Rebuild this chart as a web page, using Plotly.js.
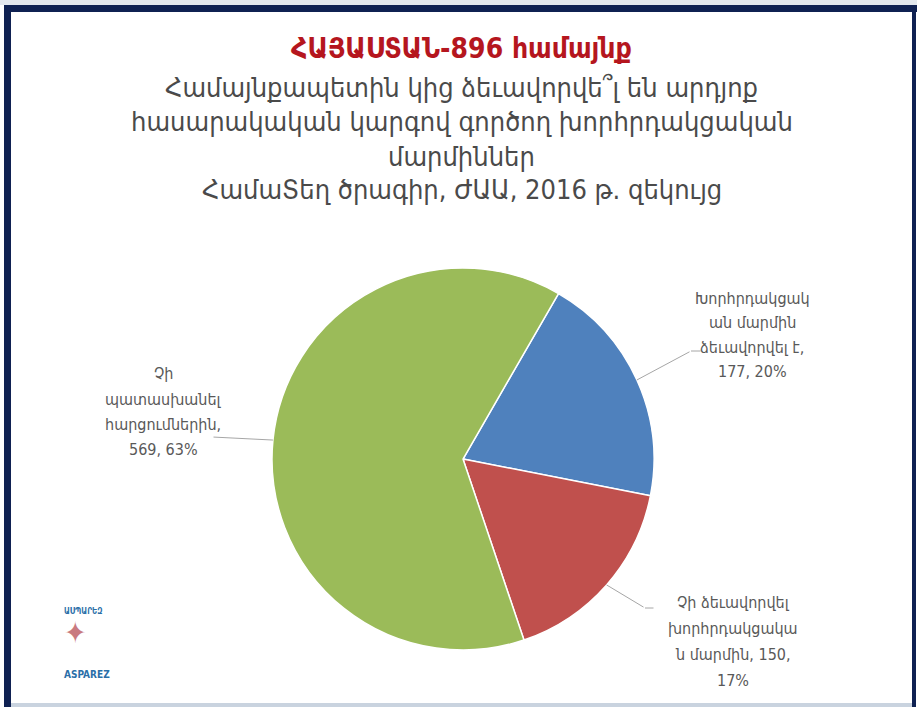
<!DOCTYPE html>
<html>
<head>
<meta charset="utf-8">
<script src="https://cdn.plot.ly/plotly-3.0.1.min.js"></script>
<style>html,body{margin:0;padding:0;background:#fff;}#chart{width:917px;height:707px;}</style>
</head>
<body>
<div id="chart"></div>
<script>
// ---- data ----
var categories = [
  "Խորհրդակցական մարմին ձեւավորվել է",
  "Չի ձեւավորվել խորհրդակցական մարմին",
  "Չի պատասխանել հարցումներին"
];
var values = [177, 150, 569];
var percents = [20, 17, 63];
var labelTemplates = [
  ["Խորհրդակցակ", "ան մարմին", "ձեւավորվել է,", "{v}, {p}%"],
  ["Չի ձեւավորվել", "խորհրդակցակա", "ն մարմին, {v},", "{p}%"],
  ["Չի", "պատասխանել", "հարցումներին,", "{v}, {p}%"]
];
var sliceColors = ["#4f81bd", "#c0504d", "#9bbb59"];
var titleLines = [
  "ՀԱՅԱՍՏԱՆ-896 համայնք",
  "Համայնքապետին կից ձեւավորվե՞լ են արդյոք",
  "հասարակական կարգով գործող խորհրդակցական",
  "մարմիններ",
  "ՀամաՏեղ ծրագիր, ԺԱԱ, 2016 թ. զեկույց"
];
var logoTop = "ԱՍՊԱՐԵԶ";
var logoBottom = "ASPAREZ";

// ---- layout helpers ----
var W = 917, H = 707;
function px(x){ return x / W; }
function py(y){ return 1 - y / H; }
var FONT = "DejaVu Sans Condensed, DejaVu Sans, sans-serif";

var cx = 463, cy = 459, R = 191, rotationDeg = 30;
// label block: center x, first line y, line step
var labelPos = [[752, 298, 24.5], [733, 602, 26], [163, 374, 25.3]];
// leader elbows: [elbowX, elbowY, horizontal length]
var elbows = [[691, 351, 11], [645, 608, 10], [212, 437, 0]];

var total = values.reduce(function(a,b){return a+b;}, 0);

var annotations = [];
// title lines
var titleY = [48, 88, 122, 156, 190];
titleLines.forEach(function(t, i){
  annotations.push({
    xref:"paper", yref:"paper", x: px(462), y: py(titleY[i]),
    xanchor:"center", yanchor:"middle", showarrow:false,
    text: i === 0 ? "<b>" + t + "</b>" : t,
    font: {family: FONT, size: i === 0 ? 28 : 27, color: i === 0 ? "#b5161e" : "#4a4a4a"}
  });
});

// slice labels with leader lines
var cum = 0;
values.forEach(function(v, i){
  var mid = (rotationDeg + (cum + v/2) / total * 360) * Math.PI / 180;
  cum += v;
  var ex = cx + R * Math.sin(mid), ey = cy - R * Math.cos(mid);
  var el = elbows[i];
  annotations.push({
    xref:"paper", yref:"paper", x: px(ex), y: py(ey), text:"",
    showarrow:true, arrowhead:0, arrowwidth:1, arrowcolor:"#a6a6a6", standoff:0,
    ax: el[0] - ex, ay: el[1] - ey
  });
  if (el[2] > 0) {
    annotations.push({
      xref:"paper", yref:"paper", x: px(el[0]), y: py(el[1]), text:"",
      showarrow:true, arrowhead:0, arrowwidth:1, arrowcolor:"#a6a6a6", standoff:0,
      ax: el[2], ay: 0
    });
  }
  labelTemplates[i].forEach(function(line, k){
    annotations.push({
      xref:"paper", yref:"paper", x: px(labelPos[i][0]), y: py(labelPos[i][1] + k * labelPos[i][2]),
      xanchor:"center", yanchor:"middle", showarrow:false,
      text: line.replace("{v}", v).replace("{p}", percents[i]),
      font: {family: FONT, size: 16, color: "#595959"}
    });
  });
});

// logo
annotations.push({xref:"paper", yref:"paper", x: px(62), y: py(618), showarrow:false,
  text: "<b>" + logoTop + "</b>", font:{family: FONT, size: 8, color:"#2a6fa8"}});
annotations.push({xref:"paper", yref:"paper", x: px(62), y: py(652), showarrow:false,
  text: "✦", font:{family: FONT, size: 30, color:"#c97a80"}});
annotations.push({xref:"paper", yref:"paper", x: px(62), y: py(682), showarrow:false,
  text: "<b>" + logoBottom + "</b>", font:{family: FONT, size: 10, color:"#2a6fa8"}});

var frame = "#0f2152";
var shapes = [
  {type:"rect", xref:"paper", yref:"paper", x0:0, x1:1, y0:py(5), y1:1, fillcolor:"#e3e8ee", line:{width:0}, layer:"below"},
  {type:"rect", xref:"paper", yref:"paper", x0:px(4), x1:1, y0:py(12), y1:py(5), fillcolor:frame, line:{width:0}},
  {type:"rect", xref:"paper", yref:"paper", x0:px(4), x1:px(11), y0:0, y1:py(5), fillcolor:frame, line:{width:0}},
  {type:"rect", xref:"paper", yref:"paper", x0:px(912), x1:px(916), y0:0, y1:py(5), fillcolor:frame, line:{width:0}},
  {type:"rect", xref:"paper", yref:"paper", x0:px(11), x1:px(912), y0:0, y1:py(703), fillcolor:"#c9d3df", line:{width:0}}
];

var trace = {
  type:"pie", labels: categories, values: values,
  sort:false, direction:"clockwise", rotation: rotationDeg,
  marker:{colors: sliceColors, line:{color:"#ffffff", width:1.5}},
  textinfo:"none", hoverinfo:"label+value+percent",
  domain:{x:[px(cx-R), px(cx+R)], y:[py(cy+R), py(cy-R)]}
};

Plotly.newPlot("chart", [trace], {
  width: W, height: H, margin:{l:0,r:0,t:0,b:0},
  paper_bgcolor:"#ffffff", showlegend:false,
  annotations: annotations, shapes: shapes
}, {displayModeBar:false, staticPlot:true});
</script>
</body>
</html>
